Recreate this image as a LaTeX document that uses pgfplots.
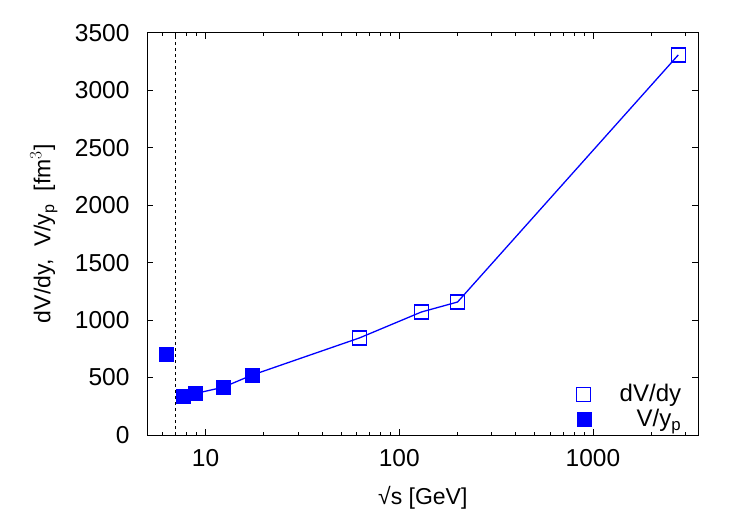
\documentclass[border=0pt]{standalone}
\usepackage{fontspec}
\setmainfont{Liberation Sans}
\usepackage{pgfplots}
\pgfplotsset{compat=1.18}
\definecolor{pblue}{RGB}{0,0,255}
\begin{document}
\fontsize{23pt}{27pt}\selectfont
\begin{tikzpicture}
\useasboundingbox (-147.3pt,-88pt) rectangle (599.7pt,435pt);
\begin{axis}[
  at={(0,0)}, anchor=south west,
  scale only axis, width=551pt, height=402.3pt,
  xmode=log, xmin=5, xmax=3500, ymin=0, ymax=3500,
  xtick={10,100,1000}, xticklabels={10,100,1000},
  minor xtick={5,6,7,8,9,20,30,40,50,60,70,80,90,200,300,400,500,600,700,800,900,2000,3000},
  ytick={0,500,...,3500},
  /pgf/number format/assume math mode=true,
  /pgf/number format/set thousands separator={},
  tick label style={font=\fontsize{24.5pt}{28pt}\selectfont},
  label style={font=\fontsize{23pt}{27pt}\selectfont},
  yticklabel style={xshift=-10pt},
  xticklabel style={yshift=-7pt},
  major tick length=6pt, minor tick length=3pt,
  tick style={black, line width=0.8pt},
  axis line style={line width=1pt},
  tick align=inside,
  xlabel={√s [GeV]},
  ylabel={dV/dy,\ \ V/y$_{\mathrm{p}}$\ \ [fm$^{3}$]},
  xlabel style={yshift=-4pt},
  ylabel style={yshift=2pt},
  legend cell align=right,
  legend style={draw=none, fill=none, at={(1,0)}, anchor=south east,
    xshift=-12pt, yshift=3pt, row sep=0pt, inner ysep=0pt,
    font=\fontsize{24pt}{28pt}\selectfont},
  legend image code/.code={\path[draw=none,fill=none] (-8pt,-7pt) rectangle (34pt,7pt); \draw[#1] plot coordinates {(0pt,0pt)};},
]
\addplot[black, dashed, line width=0.8pt, dash pattern=on 3pt off 3pt, forget plot] coordinates {(7,0) (7,3500)};
\addplot[pblue, line width=1.3pt, mark=none, forget plot] coordinates {
  (7.7,340) (8.8,360) (12.3,415) (17.3,520) (62.4,845) (130,1070) (200,1157) (2760,3307)};
\addplot[pblue, only marks, mark=square, mark size=7pt, mark options={line width=1.5pt}] coordinates {
  (62.4,845) (130,1070) (200,1157) (2760,3307)};
\addlegendentry{dV/dy}
\addplot[pblue, only marks, mark=square*, mark size=7pt, mark options={fill=pblue, draw=pblue}] coordinates {
  (6.27,700) (7.7,340) (8.8,360) (12.3,415) (17.3,520)};
\addlegendentry{V/y$_{\mathrm{p}}$}
\end{axis}
\end{tikzpicture}
\end{document}
